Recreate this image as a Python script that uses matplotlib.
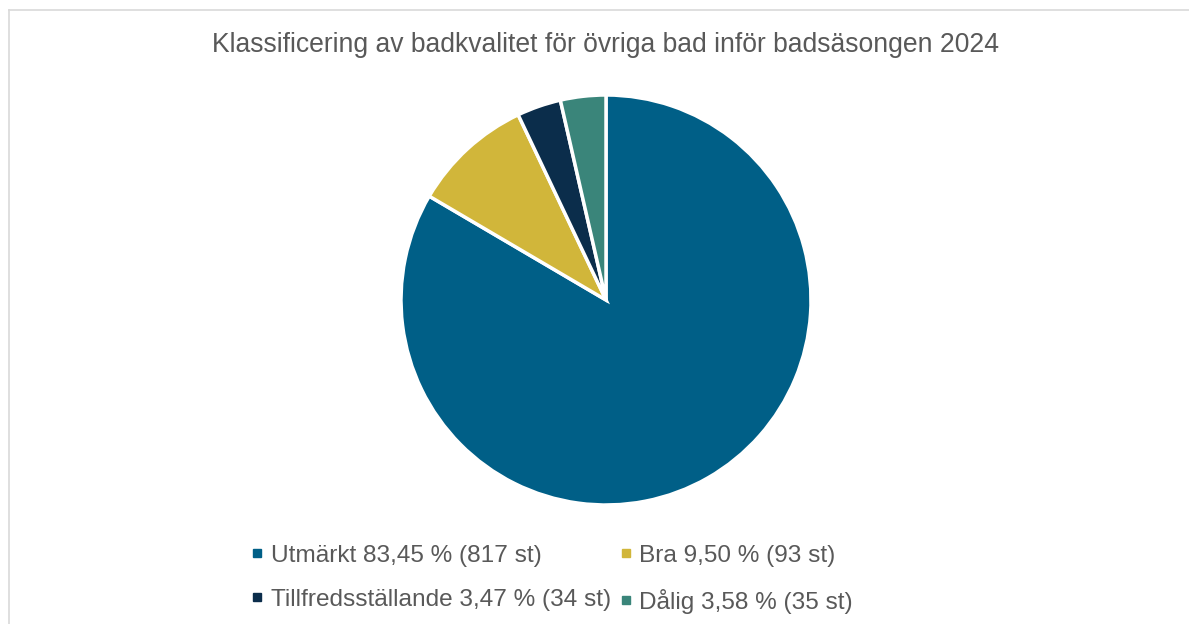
import matplotlib.pyplot as plt
from matplotlib.lines import Line2D

plt.rcParams['font.family'] = ['Liberation Sans', 'DejaVu Sans']

# data
kategorier = ['Utmärkt', 'Bra', 'Tillfredsställande', 'Dålig']
andel = [83.45, 9.50, 3.47, 3.58]
antal = [817, 93, 34, 35]
farger = ['#005F87', '#D1B63A', '#0B2D4B', '#3A857A']
titel = "Klassificering av badkvalitet för övriga bad inför badsäsongen 2024"

W, H = 1189, 624
fig = plt.figure(figsize=(W / 100, H / 100), dpi=100)

# ram runt diagrammet (höger/nederkant utanför bilden)
fig.add_artist(Line2D([9 / W, 1], [1 - 10 / H, 1 - 10 / H], color='#D9D9D9', lw=1.2))
fig.add_artist(Line2D([9 / W, 9 / W], [0, 1 - 10 / H], color='#D9D9D9', lw=1.2))

fig.text(605 / W, 1 - 45 / H, titel, ha='center', va='center',
         fontsize=19.1, color='#595959')

cx, cy, r = 606, 300, 205
ax = fig.add_axes([(cx - r) / W, (H - cy - r) / H, 2 * r / W, 2 * r / H])
ax.pie(antal, colors=farger, startangle=90, counterclock=False,
       wedgeprops=dict(edgecolor='white', linewidth=2.5), radius=1)
ax.set_xlim(-1, 1)
ax.set_ylim(-1, 1)
ax.set_aspect('equal')
ax.axis('off')

etiketter = [f"{k} {str(f'{a:.2f}').replace('.', ',')} % ({n} st)"
             for k, a, n in zip(kategorier, andel, antal)]
handles = [Line2D([], [], marker='s', linestyle='none', color=c, markersize=6)
           for c in farger]
ordning = [0, 2, 1, 3]
fig.legend([handles[i] for i in ordning], [etiketter[i] for i in ordning],
           ncol=2, loc='center', bbox_to_anchor=(552 / W, 1 - 579 / H),
           frameon=False, fontsize=17.6, labelcolor='#595959',
           handlelength=0.5, handletextpad=0.3, columnspacing=0.35,
           labelspacing=0.9, borderpad=0)

plt.savefig('out.png', dpi=100, facecolor='white')
